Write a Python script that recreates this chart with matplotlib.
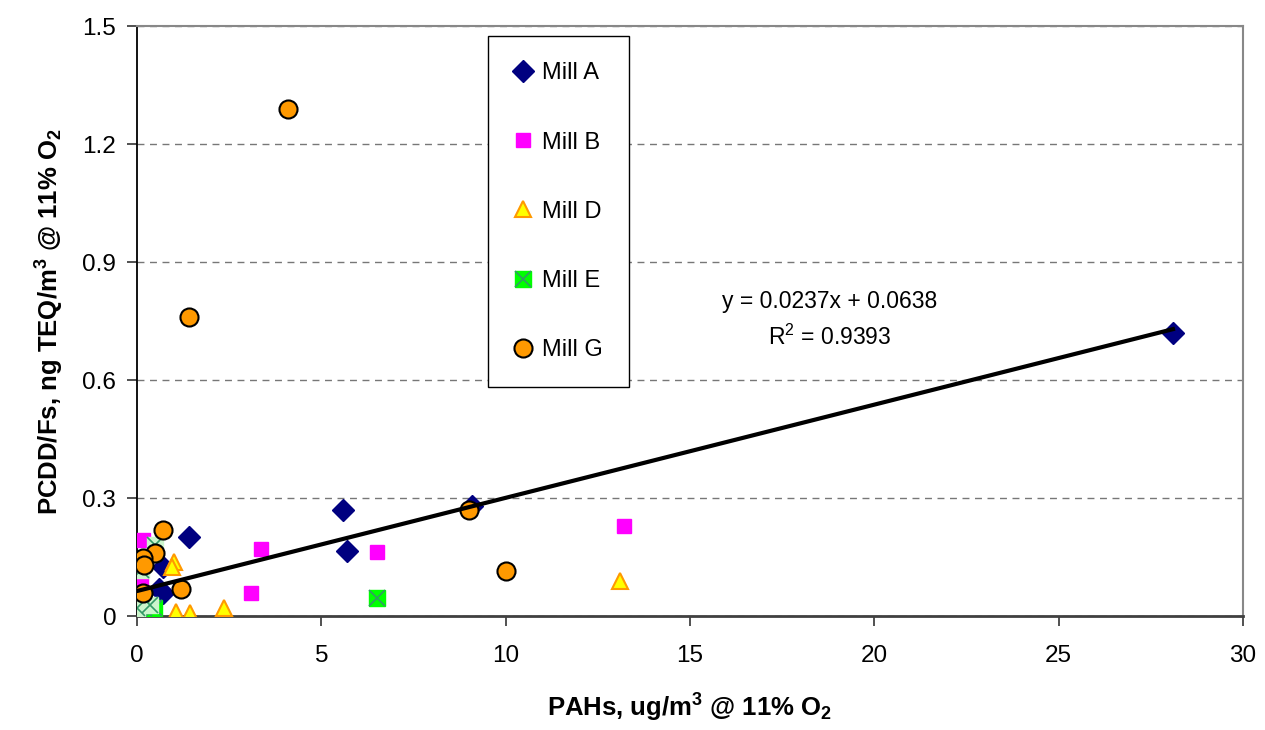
import numpy as np
import matplotlib.pyplot as plt

plt.rcParams['font.family'] = ['Liberation Sans', 'DejaVu Sans']
plt.rcParams['mathtext.fontset'] = 'custom'
plt.rcParams['mathtext.rm'] = 'Liberation Sans'
plt.rcParams['mathtext.bf'] = 'Liberation Sans:bold'

# data
mill_a_x = [28.1, 9.1, 5.6, 5.7, 1.4, 0.7, 0.7, 0.6, 0.1]
mill_a_y = [0.72, 0.28, 0.27, 0.165, 0.20, 0.125, 0.06, 0.07, 0.01]

mill_b_x = [13.2, 6.5, 3.35, 3.1, 0.15, 0.1]
mill_b_y = [0.23, 0.163, 0.17, 0.06, 0.193, 0.085]

mill_d_x = [13.1, 2.35, 1.05, 1.45, 1.0, 0.95, 0.1]
mill_d_y = [0.09, 0.02, 0.01, 0.007, 0.137, 0.125, 0.01]

mill_e_x = [6.5, 0.2, 0.45]
mill_e_y = [0.045, 0.02, 0.02]
# pale overlapped markers near the origin
mill_e2_x = [0.5, 0.1, 0.1, 0.35, 0.0]
mill_e2_y = [0.18, 0.117, 0.053, 0.028, 0.02]

mill_g_x = [4.1, 1.4, 9.0, 10.0, 0.7, 0.5, 0.15, 0.2, 1.2, 0.15]
mill_g_y = [1.29, 0.76, 0.27, 0.115, 0.22, 0.16, 0.147, 0.13, 0.07, 0.058]

slope = 0.0237
intercept = 0.0638
r2 = 0.9393

fig = plt.figure(figsize=(12.65, 7.3), dpi=100)
ax = fig.add_axes([0.1083, 0.156, 0.8743, 0.808])

ha, = ax.plot(mill_a_x, mill_a_y, 'D', color='#000080', ms=11, mec='#000080', ls='none', zorder=3)
hb, = ax.plot(mill_b_x, mill_b_y, 's', color='#ff00ff', ms=10, mec='#ff00ff', ls='none', zorder=3)
hd, = ax.plot(mill_d_x, mill_d_y, '^', color='#ffff00', ms=11, mec='#ff9900', mew=1.5, ls='none', zorder=3)
he1, = ax.plot(mill_e_x, mill_e_y, 's', color='#00ff00', ms=11, mec='#00ff00', ls='none', zorder=3.2)
he2, = ax.plot(mill_e_x, mill_e_y, 'x', color='#339966', ms=11, mew=1.2, ls='none', zorder=3.2)
ax.plot(mill_e2_x, mill_e2_y, 's', color='#ccf5cc', ms=12, mec='#ccf5cc', ls='none', zorder=3.5)
ax.plot(mill_e2_x, mill_e2_y, 'x', color='#339966', ms=12, mew=1.2, ls='none', zorder=3.5)
hg, = ax.plot(mill_g_x, mill_g_y, 'o', color='#ff9900', ms=13, mec='black', mew=1.5, ls='none', zorder=4)

xfit = np.array([0, max(mill_a_x)])
ax.plot(xfit, slope * xfit + intercept, color='black', lw=3, zorder=5)

ax.text(18.8, 0.80, 'y = %.4fx + %.4f' % (slope, intercept), ha='center', va='center', fontsize=16.5)
ax.text(18.8, 0.71, r'R$\mathregular{^2}$ = %.4f' % r2, ha='center', va='center', fontsize=16.5)

ax.set_xlim(0, 30)
ax.set_ylim(0, 1.5)
ax.set_xticks(np.arange(0, 31, 5))
ax.set_yticks([0, 0.3, 0.6, 0.9, 1.2, 1.5])
ax.set_yticklabels(['0', '0.3', '0.6', '0.9', '1.2', '1.5'])
ax.tick_params(labelsize=17.5, color='#333333', length=7, width=1.2, pad=8)
ax.tick_params(axis='x', pad=14)
ax.yaxis.grid(True, ls=(0, (5, 4)), color='#777777', lw=1)
ax.set_axisbelow(True)
for s in ['top', 'right']:
    ax.spines[s].set_color('#888888')
    ax.spines[s].set_linewidth(1.5)
ax.spines['left'].set_color('black')
ax.spines['left'].set_linewidth(1.3)
ax.spines['bottom'].set_color('#404040')
ax.spines['bottom'].set_linewidth(2)

ax.set_xlabel(r'PAHs, ug/m$\mathbf{^3}$ @ 11% O$\mathbf{_2}$', fontsize=18.5, fontweight='bold', labelpad=18)
ax.set_ylabel(r'PCDD/Fs, ng TEQ/m$\mathbf{^3}$ @ 11% O$\mathbf{_2}$', fontsize=18.5, fontweight='bold', labelpad=12)

leg = ax.legend([ha, hb, hd, (he1, he2), hg], ['Mill A', 'Mill B', 'Mill D', 'Mill E', 'Mill G'],
                loc='upper left', bbox_to_anchor=(0.317, 0.983), fontsize=17, labelspacing=2.0,
                handlelength=0.8, handletextpad=0.4, borderpad=1.1, fancybox=False,
                edgecolor='black', framealpha=1, borderaxespad=0)
leg.get_frame().set_linewidth(1.0)

fig.savefig('out.png', dpi=100)
